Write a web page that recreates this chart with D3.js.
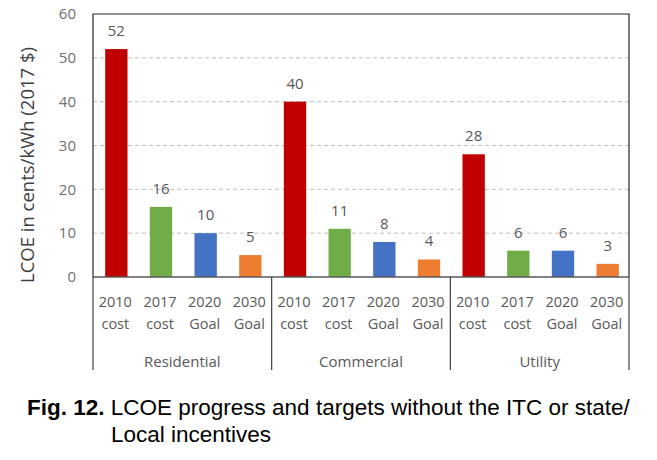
<!DOCTYPE html>
<html><head><meta charset="utf-8">
<script src="https://cdn.jsdelivr.net/npm/d3@7"></script>
<style>body{margin:0;background:#fff}</style>
</head><body>
<svg id="c" width="657" height="460"></svg>
<script>
const groups = ["Residential", "Commercial", "Utility"];
const categories = ["2010 cost", "2017 cost", "2020 Goal", "2030 Goal"];
const residential = [52, 16, 10, 5];
const commercial = [40, 11, 8, 4];
const utility = [28, 6, 6, 3];
const yTicks = [0, 10, 20, 30, 40, 50, 60];
const colors = ["#C00000", "#70AD47", "#4472C4", "#ED7D31"];
const seriesByGroup = [residential, commercial, utility];

const svg = d3.select("#c");
const L = 93, R = 629, T = 14, B = 277;
const tickFont = "'Open Sans', sans-serif";
const textCol = "#595959";

const y = d3.scaleLinear().domain([0, 60]).range([B, T]);
const xg = d3.scaleBand().domain(groups).range([L, R]).padding(0);
const xi = d3.scaleBand().domain(categories).range([0, xg.bandwidth()]).paddingInner(0.5).paddingOuter(0.25);

// gridlines
svg.append("g").selectAll("line").data(yTicks.filter(d => d > 0 && d < 60)).join("line")
  .attr("x1", L).attr("x2", R).attr("y1", d => y(d)).attr("y2", d => y(d))
  .attr("stroke", "#BFBFBF").attr("stroke-width", 1).attr("stroke-dasharray", "4,3");

// y tick labels
svg.append("g").selectAll("text").data(yTicks).join("text")
  .attr("x", 76).attr("y", d => y(d)).attr("dy", "0.35em").attr("text-anchor", "end")
  .attr("font-family", tickFont).attr("font-size", 15).attr("fill", "#6f6f6f")
  .text(d => d);

// y axis title
svg.append("text")
  .attr("transform", `translate(34,165) rotate(-90)`)
  .attr("text-anchor", "middle").attr("font-family", tickFont).attr("font-size", 18.5)
  .attr("fill", "#404040").text("LCOE in cents/kWh (2017 $)");

// bars
const data = [];
groups.forEach((g, gi) => categories.forEach((c, ci) => data.push({ g, c, ci, v: seriesByGroup[gi][ci] })));
svg.append("g").selectAll("rect").data(data).join("rect")
  .attr("x", d => xg(d.g) + xi(d.c) + 1).attr("width", xi.bandwidth())
  .attr("y", d => y(d.v)).attr("height", d => y(0) - y(d.v))
  .attr("fill", d => colors[d.ci]);

// value labels
svg.append("g").selectAll("text").data(data).join("text")
  .attr("x", d => xg(d.g) + xi(d.c) + 1 + xi.bandwidth() / 2).attr("y", d => y(d.v) - 13)
  .attr("text-anchor", "middle").attr("font-family", tickFont).attr("font-size", 15)
  .attr("fill", textCol).text(d => d.v);

// frame
svg.append("path").attr("d", `M${L},${B}V${T}H${R}V${B}`).attr("fill", "none")
  .attr("stroke", "#262626").attr("stroke-width", 1.2);
svg.append("line").attr("x1", L).attr("x2", R).attr("y1", B).attr("y2", B)
  .attr("stroke", "#595959").attr("stroke-width", 1.5);

// separators
const seps = groups.map(g => xg(g)).concat([R]);
svg.append("g").selectAll("line").data(seps).join("line")
  .attr("x1", d => d).attr("x2", d => d).attr("y1", B).attr("y2", 370)
  .attr("stroke", "#404040").attr("stroke-width", 1.2);

// category labels
const cl = svg.append("g").selectAll("text").data(data).join("text")
  .attr("text-anchor", "middle").attr("font-family", tickFont).attr("font-size", 14.5)
  .attr("fill", textCol);
cl.append("tspan").attr("x", d => xg(d.g) + xi(d.c) + xi.bandwidth() / 2).attr("y", 307)
  .text(d => d.c.split(" ")[0]);
cl.append("tspan").attr("x", d => xg(d.g) + xi(d.c) + xi.bandwidth() / 2).attr("y", 329)
  .text(d => d.c.split(" ")[1]);

// group labels
svg.append("g").selectAll("text").data(groups).join("text")
  .attr("x", d => xg(d) + xg.bandwidth() / 2).attr("y", 367).attr("text-anchor", "middle")
  .attr("font-family", tickFont).attr("font-size", 15).attr("fill", textCol).text(d => d);

// caption
const capFont = "'Liberation Sans', Arial, sans-serif";
const cap = svg.append("text").attr("x", 27).attr("y", 415)
  .attr("font-family", capFont).attr("font-size", 22.5).attr("fill", "#000");
cap.append("tspan").attr("font-weight", "bold").text("Fig. 12.");
cap.append("tspan").text(" LCOE progress and targets without the ITC or state/");
svg.append("text").attr("x", 111).attr("y", 442)
  .attr("font-family", capFont).attr("font-size", 22.5).attr("fill", "#000")
  .text("Local incentives");
</script>
</body></html>
